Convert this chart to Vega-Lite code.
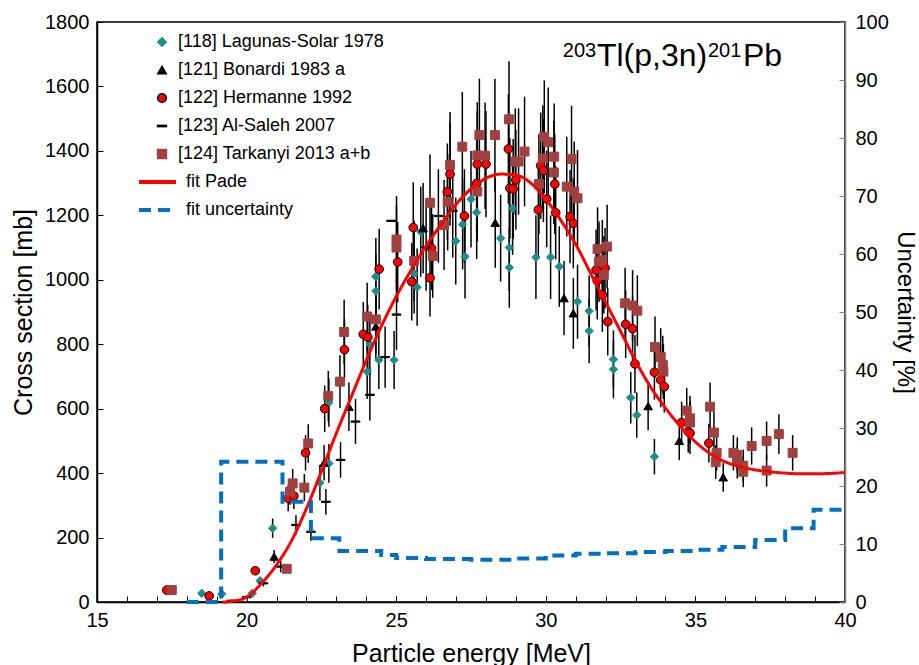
{
"$schema":"https://vega.github.io/schema/vega-lite/v6.json",
"width":748,"height":580,"autosize":{"type":"none"},
"padding":{"left":97,"top":22,"right":74,"bottom":63},
"background":"white",
"config":{
 "font":"Liberation Sans",
 "view":{"stroke":"#000","strokeWidth":1.5},
 "axis":{"labelFont":"Liberation Sans","titleFont":"Liberation Sans","labelFontSize":20,"titleFontSize":25,"titleFontWeight":"normal","labelColor":"#000","titleColor":"#000","domainColor":"#000","tickColor":"#000","domainWidth":1.5,"tickWidth":1,"grid":false,"labelOverlap":false},
 "legend":{"labelFont":"Liberation Sans","labelFontSize":18,"labelColor":"#000","padding":0,"rowPadding":10,"labelLimit":400}
},
"datasets":{
"pts":[
{"s":"L","x":18.5,"y":27,"e":6},{"s":"L","x":19.17,"y":25,"e":6},{"s":"L","x":20.19,"y":27,"e":6},{"s":"L","x":20.45,"y":66,"e":10},{"s":"L","x":20.87,"y":229,"e":30},{"s":"L","x":22.45,"y":370,"e":55},{"s":"L","x":22.75,"y":430,"e":60},{"s":"L","x":22.75,"y":619,"e":75},{"s":"L","x":24.03,"y":715,"e":85},{"s":"L","x":24.12,"y":800,"e":95},{"s":"L","x":24.42,"y":751,"e":90},{"s":"L","x":24.93,"y":751,"e":90},{"s":"L","x":24.32,"y":965,"e":115},{"s":"L","x":24.32,"y":1010,"e":120},{"s":"L","x":25.82,"y":1149,"e":140},{"s":"L","x":25.6,"y":1020,"e":125},{"s":"L","x":25.7,"y":977,"e":120},{"s":"L","x":26.99,"y":1120,"e":135},{"s":"L","x":27.22,"y":1172,"e":140},{"s":"L","x":27.3,"y":1072,"e":130},{"s":"L","x":27.5,"y":1250,"e":150},{"s":"L","x":27.69,"y":1209,"e":145},{"s":"L","x":28.49,"y":1129,"e":135},{"s":"L","x":28.89,"y":1222,"e":145},{"s":"L","x":28.78,"y":1100,"e":135},{"s":"L","x":28.78,"y":1038,"e":125},{"s":"L","x":29.67,"y":1070,"e":130},{"s":"L","x":30.16,"y":1070,"e":130},{"s":"L","x":30.45,"y":1041,"e":125},{"s":"L","x":31.06,"y":932,"e":115},{"s":"L","x":31.45,"y":903,"e":110},{"s":"L","x":31.45,"y":841,"e":100},{"s":"L","x":32.26,"y":753,"e":90},{"s":"L","x":32.26,"y":722,"e":90},{"s":"L","x":32.84,"y":634,"e":80},{"s":"L","x":33.04,"y":580,"e":70},{"s":"L","x":33.63,"y":451,"e":55},
{"s":"B","x":20.92,"y":141,"e":20},{"s":"B","x":22.59,"y":432,"e":55},{"s":"B","x":23.42,"y":606,"e":75},{"s":"B","x":24.32,"y":855,"e":100},{"s":"B","x":25.9,"y":1160,"e":140},{"s":"B","x":28.31,"y":1177,"e":140},{"s":"B","x":30.61,"y":943,"e":115},{"s":"B","x":30.92,"y":896,"e":110},{"s":"B","x":33.42,"y":608,"e":75},{"s":"B","x":34.46,"y":500,"e":60},{"s":"B","x":35.93,"y":387,"e":45},
{"s":"H","x":17.33,"y":37,"e":5},{"s":"H","x":18.75,"y":19,"e":4},{"s":"H","x":20.29,"y":97,"e":12},{"s":"H","x":21.39,"y":322,"e":40},{"s":"H","x":21.58,"y":329,"e":40},{"s":"H","x":21.97,"y":463,"e":55},{"s":"H","x":22.61,"y":600,"e":72},{"s":"H","x":23.27,"y":783,"e":95},{"s":"H","x":23.9,"y":831,"e":100},{"s":"H","x":24.05,"y":822,"e":100},{"s":"H","x":24.43,"y":1033,"e":125},{"s":"H","x":25.05,"y":1055,"e":125},{"s":"H","x":25.57,"y":1162,"e":140},{"s":"H","x":25.52,"y":994,"e":120},{"s":"H","x":26.18,"y":1098,"e":130},{"s":"H","x":26.13,"y":1006,"e":120},{"s":"H","x":26.71,"y":1273,"e":150},{"s":"H","x":27.28,"y":1198,"e":145},{"s":"H","x":26.8,"y":1328,"e":160},{"s":"H","x":27.69,"y":1299,"e":155},{"s":"H","x":27.71,"y":1359,"e":165},{"s":"H","x":28.0,"y":1359,"e":165},{"s":"H","x":28.75,"y":1406,"e":170},{"s":"H","x":28.8,"y":1284,"e":155},{"s":"H","x":28.91,"y":1282,"e":155},{"s":"H","x":29.0,"y":1310,"e":155},{"s":"H","x":29.75,"y":1217,"e":145},{"s":"H","x":29.83,"y":1354,"e":165},{"s":"H","x":29.92,"y":1339,"e":160},{"s":"H","x":30.03,"y":1251,"e":150},{"s":"H","x":30.33,"y":1208,"e":145},{"s":"H","x":30.3,"y":1297,"e":155},{"s":"H","x":30.81,"y":1196,"e":145},{"s":"H","x":30.92,"y":1175,"e":140},{"s":"H","x":31.68,"y":1030,"e":125},{"s":"H","x":31.98,"y":1036,"e":125},{"s":"H","x":31.72,"y":997,"e":120},{"s":"H","x":31.89,"y":953,"e":115},{"s":"H","x":32.07,"y":870,"e":105},{"s":"H","x":32.67,"y":862,"e":105},{"s":"H","x":32.9,"y":848,"e":100},{"s":"H","x":32.98,"y":739,"e":90},{"s":"H","x":33.63,"y":713,"e":85},{"s":"H","x":33.84,"y":689,"e":85},{"s":"H","x":33.96,"y":668,"e":80},{"s":"H","x":34.54,"y":557,"e":65},{"s":"H","x":34.76,"y":529,"e":65},{"s":"H","x":34.82,"y":524,"e":65},{"s":"H","x":35.45,"y":493,"e":60},
{"s":"A","x":19.5,"y":4,"e":3},{"s":"A","x":20.0,"y":15,"e":5},{"s":"A","x":20.56,"y":58,"e":10},{"s":"A","x":21.14,"y":110,"e":18},{"s":"A","x":21.65,"y":239,"e":30},{"s":"A","x":22.15,"y":218,"e":28},{"s":"A","x":22.65,"y":311,"e":40},{"s":"A","x":23.14,"y":441,"e":55},{"s":"A","x":23.64,"y":560,"e":70},{"s":"A","x":24.12,"y":643,"e":80},{"s":"A","x":24.63,"y":760,"e":95},{"s":"A","x":25.01,"y":892,"e":110},{"s":"A","x":24.83,"y":1183,"e":0},{"s":"A","x":26.0,"y":1101,"e":135},{"s":"A","x":26.41,"y":1198,"e":145},{"s":"A","x":26.89,"y":1214,"e":145},
{"s":"T","x":17.5,"y":37,"e":5},{"s":"T","x":21.34,"y":103,"e":12},{"s":"T","x":21.54,"y":368,"e":45},{"s":"T","x":21.45,"y":342,"e":40},{"s":"T","x":21.93,"y":355,"e":42},{"s":"T","x":22.06,"y":492,"e":60},{"s":"T","x":22.73,"y":639,"e":78},{"s":"T","x":23.12,"y":684,"e":82},{"s":"T","x":23.26,"y":838,"e":100},{"s":"T","x":24.03,"y":886,"e":105},{"s":"T","x":24.32,"y":877,"e":105},{"s":"T","x":25.01,"y":1100,"e":130},{"s":"T","x":25.01,"y":1125,"e":135},{"s":"T","x":25.6,"y":1059,"e":125},{"s":"T","x":26.22,"y":1074,"e":130},{"s":"T","x":26.13,"y":1239,"e":150},{"s":"T","x":26.6,"y":1170,"e":140},{"s":"T","x":26.72,"y":1241,"e":150},{"s":"T","x":26.8,"y":1356,"e":165},{"s":"T","x":27.21,"y":1413,"e":170},{"s":"T","x":27.71,"y":1274,"e":155},{"s":"T","x":27.78,"y":1449,"e":175},{"s":"T","x":27.71,"y":1386,"e":165},{"s":"T","x":27.97,"y":1385,"e":165},{"s":"T","x":28.3,"y":1449,"e":175},{"s":"T","x":28.77,"y":1498,"e":180},{"s":"T","x":28.98,"y":1367,"e":165},{"s":"T","x":29.09,"y":1367,"e":165},{"s":"T","x":29.29,"y":1398,"e":170},{"s":"T","x":29.77,"y":1297,"e":155},{"s":"T","x":29.9,"y":1377,"e":165},{"s":"T","x":29.95,"y":1444,"e":175},{"s":"T","x":30.08,"y":1427,"e":170},{"s":"T","x":30.28,"y":1382,"e":165},{"s":"T","x":30.27,"y":1333,"e":160},{"s":"T","x":30.86,"y":1375,"e":165},{"s":"T","x":30.7,"y":1289,"e":155},{"s":"T","x":30.95,"y":1274,"e":155},{"s":"T","x":31.06,"y":1253,"e":150},{"s":"T","x":31.73,"y":1095,"e":130},{"s":"T","x":32.05,"y":1103,"e":130},{"s":"T","x":31.78,"y":1056,"e":125},{"s":"T","x":31.89,"y":1061,"e":125},{"s":"T","x":31.94,"y":1015,"e":120},{"s":"T","x":32.65,"y":927,"e":110},{"s":"T","x":32.9,"y":920,"e":110},{"s":"T","x":33.06,"y":904,"e":110},{"s":"T","x":33.65,"y":791,"e":95},{"s":"T","x":33.84,"y":760,"e":90},{"s":"T","x":33.91,"y":736,"e":90},{"s":"T","x":33.93,"y":715,"e":85},{"s":"T","x":34.71,"y":594,"e":70},{"s":"T","x":34.82,"y":570,"e":70},{"s":"T","x":34.82,"y":557,"e":65},{"s":"T","x":35.49,"y":606,"e":75},{"s":"T","x":35.62,"y":526,"e":65},{"s":"T","x":35.71,"y":463,"e":55},{"s":"T","x":35.68,"y":434,"e":52},{"s":"T","x":36.27,"y":463,"e":55},{"s":"T","x":36.4,"y":456,"e":55},{"s":"T","x":36.4,"y":435,"e":52},{"s":"T","x":36.6,"y":423,"e":50},{"s":"T","x":36.6,"y":404,"e":48},{"s":"T","x":36.88,"y":484,"e":58},{"s":"T","x":37.38,"y":500,"e":60},{"s":"T","x":37.38,"y":408,"e":50},{"s":"T","x":37.79,"y":521,"e":62},{"s":"T","x":38.25,"y":463,"e":55}
],
"fit":[
{"series":"fit Pade","x":19.2,"v":0},{"series":"fit Pade","x":19.5,"v":2},{"series":"fit Pade","x":20.0,"v":15},{"series":"fit Pade","x":20.5,"v":58},{"series":"fit Pade","x":21.0,"v":115},{"series":"fit Pade","x":21.5,"v":190},{"series":"fit Pade","x":22.0,"v":290},{"series":"fit Pade","x":22.5,"v":405},{"series":"fit Pade","x":23.0,"v":524},{"series":"fit Pade","x":23.5,"v":637},{"series":"fit Pade","x":24.0,"v":750},{"series":"fit Pade","x":24.5,"v":855},{"series":"fit Pade","x":25.0,"v":948},{"series":"fit Pade","x":25.5,"v":1030},{"series":"fit Pade","x":26.0,"v":1105},{"series":"fit Pade","x":26.5,"v":1172},{"series":"fit Pade","x":27.0,"v":1234},{"series":"fit Pade","x":27.5,"v":1282},{"series":"fit Pade","x":28.0,"v":1315},{"series":"fit Pade","x":28.5,"v":1328},{"series":"fit Pade","x":29.0,"v":1325},{"series":"fit Pade","x":29.5,"v":1300},{"series":"fit Pade","x":30.0,"v":1250},{"series":"fit Pade","x":30.5,"v":1185},{"series":"fit Pade","x":31.0,"v":1110},{"series":"fit Pade","x":31.5,"v":1020},{"series":"fit Pade","x":32.0,"v":930},{"series":"fit Pade","x":32.5,"v":840},{"series":"fit Pade","x":33.0,"v":748},{"series":"fit Pade","x":33.5,"v":668},{"series":"fit Pade","x":34.0,"v":602},{"series":"fit Pade","x":34.5,"v":545},{"series":"fit Pade","x":35.0,"v":497},{"series":"fit Pade","x":35.5,"v":460},{"series":"fit Pade","x":36.0,"v":435},{"series":"fit Pade","x":36.5,"v":420},{"series":"fit Pade","x":37.0,"v":410},{"series":"fit Pade","x":37.5,"v":404},{"series":"fit Pade","x":38.0,"v":400},{"series":"fit Pade","x":38.5,"v":398},{"series":"fit Pade","x":39.0,"v":398},{"series":"fit Pade","x":39.5,"v":399},{"series":"fit Pade","x":40.0,"v":402}
],
"unc":[
{"series":"fit uncertainty","x":18.0,"u":0},{"series":"fit uncertainty","x":19.15,"u":24.2},{"series":"fit uncertainty","x":21.2,"u":17.3},{"series":"fit uncertainty","x":22.15,"u":11.0},{"series":"fit uncertainty","x":23.1,"u":8.8},{"series":"fit uncertainty","x":24.5,"u":8.1},{"series":"fit uncertainty","x":25.0,"u":7.6},{"series":"fit uncertainty","x":26.0,"u":7.4},{"series":"fit uncertainty","x":27.5,"u":7.3},{"series":"fit uncertainty","x":29.0,"u":7.5},{"series":"fit uncertainty","x":30.0,"u":8.0},{"series":"fit uncertainty","x":31.0,"u":8.3},{"series":"fit uncertainty","x":32.0,"u":8.4},{"series":"fit uncertainty","x":33.0,"u":8.6},{"series":"fit uncertainty","x":34.0,"u":8.8},{"series":"fit uncertainty","x":35.0,"u":9.0},{"series":"fit uncertainty","x":35.9,"u":9.5},{"series":"fit uncertainty","x":37.0,"u":10.7},{"series":"fit uncertainty","x":38.0,"u":12.7},{"series":"fit uncertainty","x":38.95,"u":15.9},{"series":"fit uncertainty","x":40.0,"u":15.9}
]
},
"layer":[
 {"layer":[
  {"data":{"name":"pts"},
   "mark":{"type":"errorbar","color":"#000","thickness":1.5},
   "encoding":{
    "x":{"field":"x","type":"quantitative","scale":{"domain":[15,40],"nice":false},
      "axis":{"title":"Particle energy [MeV]","values":[15,20,25,30,35,40],"tickSize":-6,"labelPadding":14,"titlePadding":11,"labelFlush":false,"labelOverlap":false,"labelBound":false}},
    "y":{"field":"y","type":"quantitative","scale":{"domain":[0,1800],"nice":false},
      "axis":{"title":"Cross section [mb]","values":[0,100,200,300,400,500,600,700,800,900,1000,1100,1200,1300,1400,1500,1600,1700,1800],"labelExpr":"datum.value % 200 === 0 ? datum.label : ''","tickSize":-6,"labelPadding":14,"titlePadding":8,"format":"d","labelOverlap":false}},
    "yError":{"field":"e"}
   }},
  {"data":{"name":"pts"},
   "mark":{"type":"point","filled":true,"opacity":1,"strokeWidth":1},
   "encoding":{
    "x":{"field":"x","type":"quantitative","scale":{"domain":[15,40],"nice":false}},
    "y":{"field":"y","type":"quantitative","scale":{"domain":[0,1800],"nice":false}},
    "shape":{"field":"s","type":"nominal","scale":{"domain":["L","B","H","A","T"],"range":["diamond","triangle-up","circle","M-1,-0.14H1V0.14H-1Z","square"]},
      "legend":{"orient":"none","legendX":56,"legendY":11,"title":null,"labelOffset":7,"labelExpr":"datum.label=='L'?'[118] Lagunas-Solar 1978':datum.label=='B'?'[121] Bonardi 1983 a':datum.label=='H'?'[122] Hermanne 1992':datum.label=='A'?'[123] Al-Saleh 2007':'[124] Tarkanyi 2013 a+b'"}},
    "fill":{"field":"s","type":"nominal","scale":{"domain":["L","B","H","A","T"],"range":["#218c8d","#000000","#ff0000","#000000","#a0413f"]},
      "legend":{"orient":"none","legendX":56,"legendY":11,"title":null,"labelOffset":7,"labelExpr":"datum.label=='L'?'[118] Lagunas-Solar 1978':datum.label=='B'?'[121] Bonardi 1983 a':datum.label=='H'?'[122] Hermanne 1992':datum.label=='A'?'[123] Al-Saleh 2007':'[124] Tarkanyi 2013 a+b'"}},
    "stroke":{"field":"s","type":"nominal","scale":{"domain":["L","B","H","A","T"],"range":["#218c8d","#000000","#000000","#000000","#a0413f"]},
      "legend":{"orient":"none","legendX":56,"legendY":11,"title":null,"labelOffset":7,"labelExpr":"datum.label=='L'?'[118] Lagunas-Solar 1978':datum.label=='B'?'[121] Bonardi 1983 a':datum.label=='H'?'[122] Hermanne 1992':datum.label=='A'?'[123] Al-Saleh 2007':'[124] Tarkanyi 2013 a+b'"}},
    "size":{"field":"s","type":"nominal","scale":{"domain":["L","B","H","A","T"],"range":[70,80,100,100,110]},
      "legend":{"orient":"none","legendX":56,"legendY":11,"title":null,"labelOffset":7,"labelExpr":"datum.label=='L'?'[118] Lagunas-Solar 1978':datum.label=='B'?'[121] Bonardi 1983 a':datum.label=='H'?'[122] Hermanne 1992':datum.label=='A'?'[123] Al-Saleh 2007':'[124] Tarkanyi 2013 a+b'"}}
   }},
  {"data":{"name":"fit"},
   "mark":{"type":"line","strokeWidth":3,"interpolate":"monotone"},
   "encoding":{
    "x":{"field":"x","type":"quantitative","scale":{"domain":[15,40],"nice":false}},
    "y":{"field":"v","type":"quantitative","scale":{"domain":[0,1800],"nice":false}},
    "color":{"field":"series","type":"nominal","scale":{"domain":["fit Pade","fit uncertainty"],"range":["#ff0000","#0070c0"]},
      "legend":{"orient":"none","legendX":51.5,"legendY":151,"title":null,"symbolType":"M-3.7,0H3.7","symbolSize":100,"symbolStrokeWidth":4,"labelOffset":19.5}},
    "strokeDash":{"field":"series","type":"nominal","scale":{"domain":["fit Pade","fit uncertainty"],"range":[[1,0],[12,7]]},
      "legend":{"orient":"none","legendX":51.5,"legendY":151,"title":null,"symbolType":"M-3.7,0H3.7","symbolSize":100,"symbolStrokeWidth":4,"labelOffset":19.5}}
   }},
  {"data":{"values":[{"t":"203"}]},
   "mark":{"type":"text","align":"left","baseline":"alphabetic","fontSize":20,"font":"Liberation Sans","color":"#000"},
   "encoding":{"x":{"datum":30.57,"type":"quantitative"},"y":{"datum":1691,"type":"quantitative"},"text":{"field":"t"}}},
  {"data":{"values":[{"t":"Tl(p,3n)"}]},
   "mark":{"type":"text","align":"left","baseline":"alphabetic","fontSize":32,"font":"Liberation Sans","color":"#000"},
   "encoding":{"x":{"datum":31.71,"type":"quantitative"},"y":{"datum":1662,"type":"quantitative"},"text":{"field":"t"}}},
  {"data":{"values":[{"t":"201"}]},
   "mark":{"type":"text","align":"left","baseline":"alphabetic","fontSize":20,"font":"Liberation Sans","color":"#000"},
   "encoding":{"x":{"datum":35.42,"type":"quantitative"},"y":{"datum":1691,"type":"quantitative"},"text":{"field":"t"}}},
  {"data":{"values":[{"t":"Pb"}]},
   "mark":{"type":"text","align":"left","baseline":"alphabetic","fontSize":32,"font":"Liberation Sans","color":"#000"},
   "encoding":{"x":{"datum":36.59,"type":"quantitative"},"y":{"datum":1662,"type":"quantitative"},"text":{"field":"t"}}}
 ]},
 {"data":{"name":"unc"},
  "mark":{"type":"line","strokeWidth":4,"interpolate":"step-after"},
  "encoding":{
   "x":{"field":"x","type":"quantitative","scale":{"domain":[15,40],"nice":false},
     "axis":{"orient":"bottom","values":[15,16,17,18,19,20,21,22,23,24,25,26,27,28,29,30,31,32,33,34,35,36,37,38,39,40],"labels":false,"title":null,"domain":false,"tickSize":-6}},
   "y":{"field":"u","type":"quantitative","scale":{"domain":[0,100],"nice":false},
     "axis":{"orient":"right","title":"Uncertainty [%]","titleFontSize":24,"values":[0,10,20,30,40,50,60,70,80,90,100],"tickSize":-6,"labelPadding":16,"titlePadding":4,"domainColor":"#808080","tickColor":"#808080","labelOverlap":false}},
   "color":{"field":"series","type":"nominal","scale":{"domain":["fit Pade","fit uncertainty"],"range":["#ff0000","#0070c0"]}},
   "strokeDash":{"field":"series","type":"nominal","scale":{"domain":["fit Pade","fit uncertainty"],"range":[[1,0],[12,7]]}}
  }}
],
"resolve":{"scale":{"y":"independent","x":"independent"}}
}
